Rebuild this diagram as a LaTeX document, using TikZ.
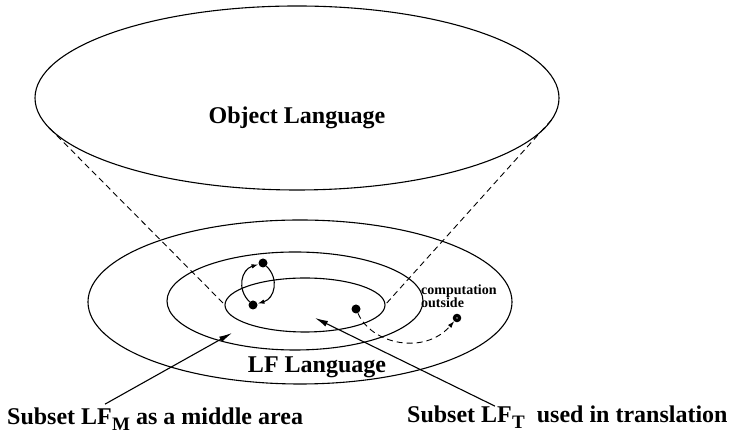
\documentclass[tikz,border=0pt]{standalone}
\usepackage{fontspec}
\setmainfont{Liberation Serif}
\usetikzlibrary{shapes.geometric,arrows.meta}
\newcommand{\lfsub}[1]{LF\kern0.3pt\raisebox{-6pt}{\fontsize{19}{19}\selectfont #1}}
\begin{document}
\begin{tikzpicture}[x=1pt,y=1pt,
  ring/.style={draw,ellipse,line width=1.1pt,inner sep=0pt,outer sep=0pt},
  dot/.style={circle,fill=black,inner sep=0pt,minimum size=9pt},
  keydot/.style={circle,draw,fill=white,line width=3.3pt,inner sep=0pt,minimum size=5pt},
  cone/.style={line width=0.9pt,dash pattern=on 6pt off 4pt},
  pointer/.style={line width=1.1pt,-{Latex[length=13pt,width=6pt]}},
  loopar/.style={line width=1.1pt,-{Latex[length=7pt,width=4.5pt]}},
  big/.style={font=\fontsize{24}{28}\selectfont\bfseries,inner sep=0pt},
  small/.style={font=\fontsize{14}{14}\selectfont\bfseries,inner sep=0pt}]
\useasboundingbox (0,0) rectangle (733,443);
% the object language
\node[ring,minimum width=524pt,minimum height=184pt] (objlang) at (297,345) {};
\node[big,anchor=base] (objtxt) at (297,319) {Object Language};
% the LF language, three rings
\node[ring,minimum width=424pt,minimum height=164pt] (lfouter) at (300,141) {};
\node[ring,minimum width=256pt,minimum height=98pt] (lfmid) at (295,142) {};
\node[ring,minimum width=160pt,minimum height=54pt] (lfinner) at (305,138) {};
\node[big,anchor=base] (lftxt) at (317,70) {LF Language};
\draw[cone] (objlang.187.9) -- (lfinner.west);
\draw[cone] (objlang.355.3) -- (lfinner.east);
% loop in the middle area
\node[dot] (loopa) at (263,180) {};
\node[dot] (loopb) at (253,138) {};
\draw[loopar] (loopb) to[bend left=60,looseness=1.2] (loopa);
\draw[loopar] (loopa) to[bend left=60,looseness=1.2] (loopb);
% computation outside
\node[dot] (tdot) at (356,134) {};
\node[keydot] (outdot) at (457,125) {};
\node[small,anchor=base west] (comptxt) at (421,148) {computation};
\node[small,anchor=base west] (outtxt) at (421,135) {outside};
\draw[cone,-{Latex[length=7pt,width=4.5pt]}] (tdot) .. controls (372,98) and (425,88) .. (outdot);
% labels below
\node[big,anchor=base west] (lfmlbl) at (7,18) {Subset \lfsub{M} as a middle area};
\node[big,anchor=base west] (lftlbl) at (407,20) {Subset \lfsub{T}\ \ used in translation};
\coordinate (lfmhead) at (232,110);
\coordinate (lfthead) at (315,125);
\draw[pointer] ([xshift=98pt,yshift=4pt]lfmlbl.north west) -- (lfmhead);
\draw[pointer] ([xshift=88pt,yshift=0pt]lftlbl.north west) -- (lfthead);
\end{tikzpicture}
\end{document}
